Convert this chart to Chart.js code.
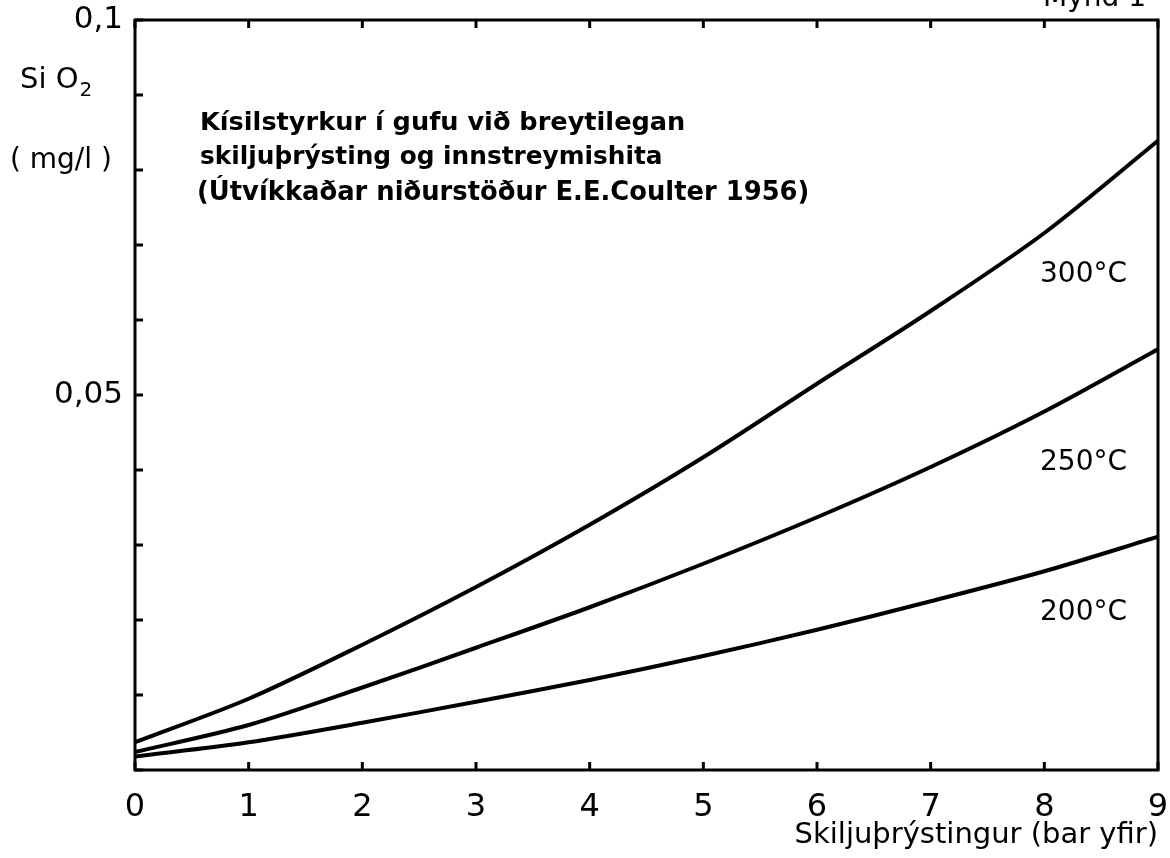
<!DOCTYPE html>
<html>
<head>
<meta charset="utf-8">
<script src="https://cdn.jsdelivr.net/npm/chart.js@4.4.1/dist/chart.umd.min.js"></script>
<style>
  html, body { margin: 0; padding: 0; background: #fff; }
</style>
</head>
<body>
<canvas id="siChart" width="1170" height="858"></canvas>
<script>
// Skiljuþrýstingur (bar yfir) og SiO2 í gufu (mg/l)
const pressure = [0, 1, 2, 3, 4, 5, 6, 7, 8, 9];
const si300 = [0.0037, 0.0095, 0.0167, 0.0244, 0.0327, 0.0417, 0.0515, 0.0612, 0.0716, 0.0839];
const si250 = [0.0024, 0.0060, 0.0110, 0.0163, 0.0217, 0.0275, 0.0337, 0.0404, 0.0478, 0.0561];
const si200 = [0.0018, 0.0037, 0.0063, 0.0091, 0.0120, 0.0152, 0.0187, 0.0225, 0.0265, 0.0311];
const seriesNames = ['300°C', '250°C', '200°C'];
const yTickLabels = { '0.05': '0,05', '0.1': '0,1' };
const titleLines = [
  'Kísilstyrkur í gufu við breytilegan',
  'skiljuþrýsting og innstreymishita',
  '(Útvíkkaðar niðurstöður E.E.Coulter 1956)'
];

const FONT = '"DejaVu Sans", sans-serif';

function toPoints(ys) {
  return pressure.map((p, i) => ({ x: p, y: ys[i] }));
}

function lineSet(label, ys) {
  return {
    label: label,
    data: toPoints(ys),
    borderColor: '#000',
    borderWidth: 4,
    pointRadius: 0,
    fill: false,
    tension: 0.3
  };
}

// text sized to the width it has in the original
function fitText(ctx, text, x, y, width, weight) {
  ctx.font = weight + ' 40px ' + FONT;
  const w = ctx.measureText(text).width;
  const size = 40 * width / w;
  ctx.font = weight + ' ' + size.toFixed(1) + 'px ' + FONT;
  ctx.fillText(text, x, y);
}

const framePlugin = {
  id: 'frame',
  afterDraw(chart) {
    const ctx = chart.ctx;
    const a = chart.chartArea;
    const xs = chart.scales.x;
    const ys = chart.scales.y;
    ctx.save();
    ctx.strokeStyle = '#000';
    ctx.lineWidth = 3;
    ctx.strokeRect(a.left, a.top, a.right - a.left, a.bottom - a.top);

    // inward tick marks
    ctx.beginPath();
    pressure.forEach(p => {
      const px = xs.getPixelForValue(p);
      ctx.moveTo(px, a.bottom);
      ctx.lineTo(px, a.bottom - 8);
      ctx.moveTo(px, a.top);
      ctx.lineTo(px, a.top + 8);
    });
    for (let v = 0; v <= 10; v++) {
      const py = ys.getPixelForValue(v / 100);
      ctx.moveTo(a.left, py);
      ctx.lineTo(a.left + 8, py);
    }
    ctx.stroke();

    ctx.fillStyle = '#000';
    ctx.textBaseline = 'middle';
    ctx.textAlign = 'left';

    // title block
    fitText(ctx, titleLines[0], 200, 123, 485, 'bold');
    fitText(ctx, titleLines[1], 200, 158, 463, 'bold');
    fitText(ctx, titleLines[2], 197, 193, 612, 'bold');

    // y-axis unit
    ctx.font = '29px ' + FONT;
    ctx.fillText('Si O', 20, 80);
    const w = ctx.measureText('Si O').width;
    ctx.font = '20px ' + FONT;
    ctx.fillText('2', 20 + w + 1, 91);
    ctx.font = '28px ' + FONT;
    ctx.fillText('( mg/l )', 10, 161);

    // curve labels
    ctx.font = '28px ' + FONT;
    const labelY = [275, 463, 613];
    seriesNames.forEach((name, i) => {
      ctx.fillText(name, 1040, labelY[i]);
    });

    // figure number, cut at the top edge
    ctx.textBaseline = 'alphabetic';
    ctx.font = '28px ' + FONT;
    ctx.fillText('Mynd 1', 1043, 6);
    ctx.restore();
  }
};

new Chart(document.getElementById('siChart'), {
  type: 'line',
  data: {
    datasets: [
      lineSet(seriesNames[0], si300),
      lineSet(seriesNames[1], si250),
      lineSet(seriesNames[2], si200)
    ]
  },
  options: {
    responsive: false,
    animation: false,
    devicePixelRatio: 1,
    layout: { padding: { left: 0, top: 20, right: 12, bottom: 0 } },
    plugins: {
      legend: { display: false },
      tooltip: { enabled: false }
    },
    scales: {
      x: {
        type: 'linear',
        min: 0,
        max: 9,
        grid: { display: false },
        border: { display: false },
        ticks: {
          stepSize: 1,
          color: '#000',
          padding: 10,
          font: { family: FONT, size: 32 }
        },
        title: {
          display: true,
          text: 'Skiljuþrýstingur (bar yfir)',
          align: 'end',
          color: '#000',
          font: { family: FONT, size: 29 },
          padding: { top: 0, bottom: 5 }
        },
        afterFit(scale) {
          scale.height = 88;
          scale.paddingLeft = 0;
          scale.paddingRight = 0;
        }
      },
      y: {
        min: 0,
        max: 0.1,
        grid: { display: false },
        border: { display: false },
        ticks: {
          stepSize: 0.01,
          color: '#000',
          padding: 4,
          font: { family: FONT, size: 31 },
          callback(value) {
            const key = String(Math.round(value * 100) / 100);
            return yTickLabels[key] || '';
          }
        },
        afterFit(scale) {
          scale.width = 135;
          scale.paddingTop = 0;
          scale.paddingBottom = 0;
        }
      }
    }
  },
  plugins: [framePlugin]
});
</script>
</body>
</html>
